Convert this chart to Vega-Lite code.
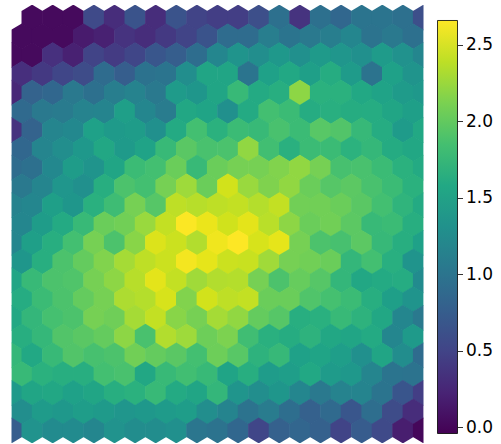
{
  "$schema": "https://vega.github.io/schema/vega-lite/v6.json",
  "background": "white",
  "padding": {"left": 11.5, "top": 5, "right": 0, "bottom": 0},
  "spacing": 13,
  "config": {"view": {"stroke": null}},
  "hconcat": [
    {
      "width": 412,
      "height": 438,
      "data": {"values": [
        {"r":0,"c":1,"v":0.02},{"r":0,"c":2,"v":0.02},{"r":0,"c":3,"v":0.02},{"r":0,"c":4,"v":0.55},{"r":0,"c":5,"v":0.3},{"r":0,"c":6,"v":0.65},{"r":0,"c":7,"v":0.3},{"r":0,"c":8,"v":0.65},{"r":0,"c":9,"v":0.5},{"r":0,"c":10,"v":0.45},{"r":0,"c":11,"v":0.45},{"r":0,"c":12,"v":0.6},{"r":0,"c":13,"v":0.95},{"r":0,"c":14,"v":0.35},{"r":0,"c":15,"v":0.95},{"r":0,"c":16,"v":0.85},{"r":0,"c":17,"v":1.0},{"r":0,"c":18,"v":1.0},{"r":0,"c":19,"v":0.95},{"r":0,"c":20,"v":0.6},
        {"r":1,"c":0.5,"v":0.02},{"r":1,"c":1.5,"v":0.02},{"r":1,"c":2.5,"v":0.02},{"r":1,"c":3.5,"v":0.15},{"r":1,"c":4.5,"v":0.2},{"r":1,"c":5.5,"v":0.35},{"r":1,"c":6.5,"v":0.3},{"r":1,"c":7.5,"v":0.4},{"r":1,"c":8.5,"v":0.5},{"r":1,"c":9.5,"v":0.65},{"r":1,"c":10.5,"v":0.9},{"r":1,"c":11.5,"v":0.9},{"r":1,"c":12.5,"v":1.1},{"r":1,"c":13.5,"v":1.0},{"r":1,"c":14.5,"v":1.05},{"r":1,"c":15.5,"v":1.1},{"r":1,"c":16.5,"v":1.2},{"r":1,"c":17.5,"v":0.98},{"r":1,"c":18.5,"v":1.05},{"r":1,"c":19.5,"v":0.95},
        {"r":2,"c":0,"v":0.02},{"r":2,"c":1,"v":0.02},{"r":2,"c":2,"v":0.33},{"r":2,"c":3,"v":0.2},{"r":2,"c":4,"v":0.5},{"r":2,"c":5,"v":0.42},{"r":2,"c":6,"v":0.52},{"r":2,"c":7,"v":0.68},{"r":2,"c":8,"v":0.75},{"r":2,"c":9,"v":0.92},{"r":2,"c":10,"v":1.2},{"r":2,"c":11,"v":1.35},{"r":2,"c":12,"v":1.28},{"r":2,"c":13,"v":1.4},{"r":2,"c":14,"v":1.3},{"r":2,"c":15,"v":1.42},{"r":2,"c":16,"v":1.37},{"r":2,"c":17,"v":1.3},{"r":2,"c":18,"v":1.43},{"r":2,"c":19,"v":1.32},{"r":2,"c":20,"v":1.2},
        {"r":3,"c":0.5,"v":0.32},{"r":3,"c":1.5,"v":0.4},{"r":3,"c":2.5,"v":0.52},{"r":3,"c":3.5,"v":0.57},{"r":3,"c":4.5,"v":0.9},{"r":3,"c":5.5,"v":0.75},{"r":3,"c":6.5,"v":0.97},{"r":3,"c":7.5,"v":1.0},{"r":3,"c":8.5,"v":1.28},{"r":3,"c":9.5,"v":1.55},{"r":3,"c":10.5,"v":1.55},{"r":3,"c":11.5,"v":1.0},{"r":3,"c":12.5,"v":1.5},{"r":3,"c":13.5,"v":1.58},{"r":3,"c":14.5,"v":1.48},{"r":3,"c":15.5,"v":1.63},{"r":3,"c":16.5,"v":1.43},{"r":3,"c":17.5,"v":0.98},{"r":3,"c":18.5,"v":1.5},{"r":3,"c":19.5,"v":1.35},
        {"r":4,"c":0,"v":0.25},{"r":4,"c":1,"v":0.8},{"r":4,"c":2,"v":0.85},{"r":4,"c":3,"v":1.05},{"r":4,"c":4,"v":0.95},{"r":4,"c":5,"v":1.1},{"r":4,"c":6,"v":1.15},{"r":4,"c":7,"v":1.05},{"r":4,"c":8,"v":1.43},{"r":4,"c":9,"v":1.38},{"r":4,"c":10,"v":1.55},{"r":4,"c":11,"v":1.78},{"r":4,"c":12,"v":1.6},{"r":4,"c":13,"v":1.65},{"r":4,"c":14,"v":2.2},{"r":4,"c":15,"v":1.68},{"r":4,"c":16,"v":1.68},{"r":4,"c":17,"v":1.58},{"r":4,"c":18,"v":1.52},{"r":4,"c":19,"v":1.43},{"r":4,"c":20,"v":1.4},
        {"r":5,"c":0.5,"v":0.88},{"r":5,"c":1.5,"v":1.05},{"r":5,"c":2.5,"v":1.07},{"r":5,"c":3.5,"v":1.15},{"r":5,"c":4.5,"v":1.17},{"r":5,"c":5.5,"v":1.48},{"r":5,"c":6.5,"v":1.2},{"r":5,"c":7.5,"v":1.08},{"r":5,"c":8.5,"v":1.57},{"r":5,"c":9.5,"v":1.53},{"r":5,"c":10.5,"v":1.3},{"r":5,"c":11.5,"v":1.6},{"r":5,"c":12.5,"v":1.85},{"r":5,"c":13.5,"v":1.8},{"r":5,"c":14.5,"v":1.62},{"r":5,"c":15.5,"v":1.66},{"r":5,"c":16.5,"v":1.63},{"r":5,"c":17.5,"v":1.62},{"r":5,"c":18.5,"v":1.55},{"r":5,"c":19.5,"v":1.48},
        {"r":6,"c":0,"v":0.35},{"r":6,"c":1,"v":0.8},{"r":6,"c":2,"v":1.18},{"r":6,"c":3,"v":1.22},{"r":6,"c":4,"v":1.5},{"r":6,"c":5,"v":1.42},{"r":6,"c":6,"v":1.45},{"r":6,"c":7,"v":1.3},{"r":6,"c":8,"v":1.6},{"r":6,"c":9,"v":1.85},{"r":6,"c":10,"v":1.68},{"r":6,"c":11,"v":1.8},{"r":6,"c":12,"v":1.78},{"r":6,"c":13,"v":1.88},{"r":6,"c":14,"v":1.8},{"r":6,"c":15,"v":1.96},{"r":6,"c":16,"v":1.93},{"r":6,"c":17,"v":1.77},{"r":6,"c":18,"v":1.62},{"r":6,"c":19,"v":1.43},{"r":6,"c":20,"v":1.58},
        {"r":7,"c":0.5,"v":0.85},{"r":7,"c":1.5,"v":1.18},{"r":7,"c":2.5,"v":1.28},{"r":7,"c":3.5,"v":1.4},{"r":7,"c":4.5,"v":1.57},{"r":7,"c":5.5,"v":1.42},{"r":7,"c":6.5,"v":1.52},{"r":7,"c":7.5,"v":1.78},{"r":7,"c":8.5,"v":1.97},{"r":7,"c":9.5,"v":1.88},{"r":7,"c":10.5,"v":1.89},{"r":7,"c":11.5,"v":2.22},{"r":7,"c":12.5,"v":1.84},{"r":7,"c":13.5,"v":1.67},{"r":7,"c":14.5,"v":1.8},{"r":7,"c":15.5,"v":1.8},{"r":7,"c":16.5,"v":1.69},{"r":7,"c":17.5,"v":1.76},{"r":7,"c":18.5,"v":1.61},{"r":7,"c":19.5,"v":1.57},
        {"r":8,"c":0,"v":0.9},{"r":8,"c":1,"v":0.95},{"r":8,"c":2,"v":1.22},{"r":8,"c":3,"v":1.45},{"r":8,"c":4,"v":1.35},{"r":8,"c":5,"v":1.55},{"r":8,"c":6,"v":1.8},{"r":8,"c":7,"v":1.85},{"r":8,"c":8,"v":2.05},{"r":8,"c":9,"v":1.78},{"r":8,"c":10,"v":2.05},{"r":8,"c":11,"v":2.1},{"r":8,"c":12,"v":2.1},{"r":8,"c":13,"v":2.15},{"r":8,"c":14,"v":2.22},{"r":8,"c":15,"v":2.1},{"r":8,"c":16,"v":1.87},{"r":8,"c":17,"v":1.88},{"r":8,"c":18,"v":1.8},{"r":8,"c":19,"v":1.68},{"r":8,"c":20,"v":1.6},
        {"r":9,"c":0.5,"v":1.05},{"r":9,"c":1.5,"v":1.18},{"r":9,"c":2.5,"v":1.37},{"r":9,"c":3.5,"v":1.3},{"r":9,"c":4.5,"v":1.65},{"r":9,"c":5.5,"v":1.9},{"r":9,"c":6.5,"v":1.85},{"r":9,"c":7.5,"v":2.1},{"r":9,"c":8.5,"v":2.27},{"r":9,"c":9.5,"v":2.05},{"r":9,"c":10.5,"v":2.48},{"r":9,"c":11.5,"v":2.25},{"r":9,"c":12.5,"v":2.14},{"r":9,"c":13.5,"v":2.22},{"r":9,"c":14.5,"v":2.05},{"r":9,"c":15.5,"v":1.95},{"r":9,"c":16.5,"v":1.98},{"r":9,"c":17.5,"v":1.88},{"r":9,"c":18.5,"v":1.8},{"r":9,"c":19.5,"v":1.68},
        {"r":10,"c":0,"v":1.15},{"r":10,"c":1,"v":1.2},{"r":10,"c":2,"v":1.48},{"r":10,"c":3,"v":1.38},{"r":10,"c":4,"v":1.67},{"r":10,"c":5,"v":1.82},{"r":10,"c":6,"v":2.1},{"r":10,"c":7,"v":1.95},{"r":10,"c":8,"v":2.4},{"r":10,"c":9,"v":2.37},{"r":10,"c":10,"v":2.4},{"r":10,"c":11,"v":2.42},{"r":10,"c":12,"v":2.36},{"r":10,"c":13,"v":2.42},{"r":10,"c":14,"v":2.08},{"r":10,"c":15,"v":2.08},{"r":10,"c":16,"v":2.05},{"r":10,"c":17,"v":1.97},{"r":10,"c":18,"v":1.85},{"r":10,"c":19,"v":1.72},{"r":10,"c":20,"v":1.6},
        {"r":11,"c":0.5,"v":1.2},{"r":11,"c":1.5,"v":1.45},{"r":11,"c":2.5,"v":1.6},{"r":11,"c":3.5,"v":1.78},{"r":11,"c":4.5,"v":2.05},{"r":11,"c":5.5,"v":2.08},{"r":11,"c":6.5,"v":2.25},{"r":11,"c":7.5,"v":2.42},{"r":11,"c":8.5,"v":2.65},{"r":11,"c":9.5,"v":2.58},{"r":11,"c":10.5,"v":2.47},{"r":11,"c":11.5,"v":2.55},{"r":11,"c":12.5,"v":2.38},{"r":11,"c":13.5,"v":2.2},{"r":11,"c":14.5,"v":2.05},{"r":11,"c":15.5,"v":2.08},{"r":11,"c":16.5,"v":1.98},{"r":11,"c":17.5,"v":1.78},{"r":11,"c":18.5,"v":1.8},{"r":11,"c":19.5,"v":1.65},
        {"r":12,"c":0,"v":1.2},{"r":12,"c":1,"v":1.48},{"r":12,"c":2,"v":1.65},{"r":12,"c":3,"v":1.85},{"r":12,"c":4,"v":2.1},{"r":12,"c":5,"v":1.9},{"r":12,"c":6,"v":2.18},{"r":12,"c":7,"v":2.52},{"r":12,"c":8,"v":2.45},{"r":12,"c":9,"v":2.35},{"r":12,"c":10,"v":2.6},{"r":12,"c":11,"v":2.66},{"r":12,"c":12,"v":2.5},{"r":12,"c":13,"v":2.56},{"r":12,"c":14,"v":2.1},{"r":12,"c":15,"v":1.9},{"r":12,"c":16,"v":1.87},{"r":12,"c":17,"v":1.98},{"r":12,"c":18,"v":1.77},{"r":12,"c":19,"v":1.65},{"r":12,"c":20,"v":1.5},
        {"r":13,"c":0.5,"v":1.38},{"r":13,"c":1.5,"v":1.65},{"r":13,"c":2.5,"v":1.9},{"r":13,"c":3.5,"v":2.02},{"r":13,"c":4.5,"v":2.15},{"r":13,"c":5.5,"v":2.3},{"r":13,"c":6.5,"v":2.4},{"r":13,"c":7.5,"v":2.45},{"r":13,"c":8.5,"v":2.62},{"r":13,"c":9.5,"v":2.56},{"r":13,"c":10.5,"v":2.45},{"r":13,"c":11.5,"v":2.44},{"r":13,"c":12.5,"v":2.28},{"r":13,"c":13.5,"v":2.1},{"r":13,"c":14.5,"v":2.08},{"r":13,"c":15.5,"v":2.05},{"r":13,"c":16.5,"v":1.75},{"r":13,"c":17.5,"v":1.85},{"r":13,"c":18.5,"v":1.66},{"r":13,"c":19.5,"v":1.35},
        {"r":14,"c":0,"v":1.55},{"r":14,"c":1,"v":1.78},{"r":14,"c":2,"v":1.9},{"r":14,"c":3,"v":1.92},{"r":14,"c":4,"v":2.1},{"r":14,"c":5,"v":2.2},{"r":14,"c":6,"v":2.37},{"r":14,"c":7,"v":2.55},{"r":14,"c":8,"v":2.42},{"r":14,"c":9,"v":2.28},{"r":14,"c":10,"v":2.35},{"r":14,"c":11,"v":2.36},{"r":14,"c":12,"v":2.1},{"r":14,"c":13,"v":1.9},{"r":14,"c":14,"v":2.03},{"r":14,"c":15,"v":1.95},{"r":14,"c":16,"v":1.75},{"r":14,"c":17,"v":1.57},{"r":14,"c":18,"v":1.6},{"r":14,"c":19,"v":1.62},{"r":14,"c":20,"v":1.25},
        {"r":15,"c":0.5,"v":1.62},{"r":15,"c":1.5,"v":1.8},{"r":15,"c":2.5,"v":1.9},{"r":15,"c":3.5,"v":2.02},{"r":15,"c":4.5,"v":2.1},{"r":15,"c":5.5,"v":2.33},{"r":15,"c":6.5,"v":2.36},{"r":15,"c":7.5,"v":2.5},{"r":15,"c":8.5,"v":2.15},{"r":15,"c":9.5,"v":2.48},{"r":15,"c":10.5,"v":2.4},{"r":15,"c":11.5,"v":2.42},{"r":15,"c":12.5,"v":2.05},{"r":15,"c":13.5,"v":2.05},{"r":15,"c":14.5,"v":1.92},{"r":15,"c":15.5,"v":1.86},{"r":15,"c":16.5,"v":1.8},{"r":15,"c":17.5,"v":1.65},{"r":15,"c":18.5,"v":1.48},{"r":15,"c":19.5,"v":1.35},
        {"r":16,"c":0,"v":1.58},{"r":16,"c":1,"v":1.75},{"r":16,"c":2,"v":1.86},{"r":16,"c":3,"v":1.9},{"r":16,"c":4,"v":2.1},{"r":16,"c":5,"v":2.07},{"r":16,"c":6,"v":2.3},{"r":16,"c":7,"v":2.42},{"r":16,"c":8,"v":2.18},{"r":16,"c":9,"v":2.1},{"r":16,"c":10,"v":2.3},{"r":16,"c":11,"v":2.22},{"r":16,"c":12,"v":2.02},{"r":16,"c":13,"v":1.95},{"r":16,"c":14,"v":1.65},{"r":16,"c":15,"v":1.67},{"r":16,"c":16,"v":1.78},{"r":16,"c":17,"v":1.7},{"r":16,"c":18,"v":1.57},{"r":16,"c":19,"v":1.2},{"r":16,"c":20,"v":1.05},
        {"r":17,"c":0.5,"v":1.65},{"r":17,"c":1.5,"v":1.76},{"r":17,"c":2.5,"v":1.93},{"r":17,"c":3.5,"v":1.97},{"r":17,"c":4.5,"v":2.02},{"r":17,"c":5.5,"v":2.2},{"r":17,"c":6.5,"v":1.88},{"r":17,"c":7.5,"v":2.35},{"r":17,"c":8.5,"v":2.27},{"r":17,"c":9.5,"v":2.06},{"r":17,"c":10.5,"v":2.13},{"r":17,"c":11.5,"v":1.83},{"r":17,"c":12.5,"v":1.67},{"r":17,"c":13.5,"v":1.63},{"r":17,"c":14.5,"v":1.7},{"r":17,"c":15.5,"v":1.57},{"r":17,"c":16.5,"v":1.55},{"r":17,"c":17.5,"v":1.6},{"r":17,"c":18.5,"v":1.2},{"r":17,"c":19.5,"v":1.42},
        {"r":18,"c":0,"v":1.76},{"r":18,"c":1,"v":1.58},{"r":18,"c":2,"v":1.78},{"r":18,"c":3,"v":1.93},{"r":18,"c":4,"v":1.87},{"r":18,"c":5,"v":1.9},{"r":18,"c":6,"v":2.08},{"r":18,"c":7,"v":2.02},{"r":18,"c":8,"v":1.97},{"r":18,"c":9,"v":1.85},{"r":18,"c":10,"v":2.06},{"r":18,"c":11,"v":1.96},{"r":18,"c":12,"v":1.7},{"r":18,"c":13,"v":1.77},{"r":18,"c":14,"v":1.5},{"r":18,"c":15,"v":1.53},{"r":18,"c":16,"v":1.47},{"r":18,"c":17,"v":1.3},{"r":18,"c":18,"v":1.55},{"r":18,"c":19,"v":1.27},{"r":18,"c":20,"v":0.9},
        {"r":19,"c":0.5,"v":1.78},{"r":19,"c":1.5,"v":1.68},{"r":19,"c":2.5,"v":1.65},{"r":19,"c":3.5,"v":1.65},{"r":19,"c":4.5,"v":1.85},{"r":19,"c":5.5,"v":1.88},{"r":19,"c":6.5,"v":1.57},{"r":19,"c":7.5,"v":1.78},{"r":19,"c":8.5,"v":1.84},{"r":19,"c":9.5,"v":1.78},{"r":19,"c":10.5,"v":1.53},{"r":19,"c":11.5,"v":1.65},{"r":19,"c":12.5,"v":1.44},{"r":19,"c":13.5,"v":1.47},{"r":19,"c":14.5,"v":1.58},{"r":19,"c":15.5,"v":1.43},{"r":19,"c":16.5,"v":1.4},{"r":19,"c":17.5,"v":1.18},{"r":19,"c":18.5,"v":1.0},{"r":19,"c":19.5,"v":0.98},
        {"r":20,"c":0,"v":1.42},{"r":20,"c":1,"v":1.55},{"r":20,"c":2,"v":1.57},{"r":20,"c":3,"v":1.5},{"r":20,"c":4,"v":1.55},{"r":20,"c":5,"v":1.65},{"r":20,"c":6,"v":1.68},{"r":20,"c":7,"v":1.78},{"r":20,"c":8,"v":1.6},{"r":20,"c":9,"v":1.55},{"r":20,"c":10,"v":1.75},{"r":20,"c":11,"v":1.36},{"r":20,"c":12,"v":1.28},{"r":20,"c":13,"v":1.38},{"r":20,"c":14,"v":1.2},{"r":20,"c":15,"v":1.05},{"r":20,"c":16,"v":1.15},{"r":20,"c":17,"v":1.17},{"r":20,"c":18,"v":1.0},{"r":20,"c":19,"v":0.67},{"r":20,"c":20,"v":0.45},
        {"r":21,"c":0.5,"v":1.28},{"r":21,"c":1.5,"v":1.43},{"r":21,"c":2.5,"v":1.4},{"r":21,"c":3.5,"v":1.46},{"r":21,"c":4.5,"v":1.42},{"r":21,"c":5.5,"v":1.37},{"r":21,"c":6.5,"v":1.4},{"r":21,"c":7.5,"v":1.43},{"r":21,"c":8.5,"v":1.46},{"r":21,"c":9.5,"v":1.28},{"r":21,"c":10.5,"v":1.17},{"r":21,"c":11.5,"v":0.98},{"r":21,"c":12.5,"v":1.08},{"r":21,"c":13.5,"v":0.93},{"r":21,"c":14.5,"v":0.78},{"r":21,"c":15.5,"v":0.88},{"r":21,"c":16.5,"v":0.68},{"r":21,"c":17.5,"v":0.93},{"r":21,"c":18.5,"v":0.57},{"r":21,"c":19.5,"v":0.3},
        {"r":22,"c":0,"v":0.75},{"r":22,"c":1,"v":1.33},{"r":22,"c":2,"v":1.25},{"r":22,"c":3,"v":1.25},{"r":22,"c":4,"v":1.2},{"r":22,"c":5,"v":1.33},{"r":22,"c":6,"v":1.27},{"r":22,"c":7,"v":1.27},{"r":22,"c":8,"v":1.3},{"r":22,"c":9,"v":1.02},{"r":22,"c":10,"v":0.98},{"r":22,"c":11,"v":0.85},{"r":22,"c":12,"v":0.52},{"r":22,"c":13,"v":0.78},{"r":22,"c":14,"v":0.84},{"r":22,"c":15,"v":0.78},{"r":22,"c":16,"v":0.5},{"r":22,"c":17,"v":0.73},{"r":22,"c":18,"v":0.55},{"r":22,"c":19,"v":0.17},{"r":22,"c":20,"v":0.0}
      ]},
      "mark": {
        "type": "point",
        "shape": "M0,-1L0.823,-0.5L0.823,0.5L0,1L-0.823,0.5L-0.823,-0.5Z",
        "filled": true,
        "opacity": 1,
        "size": 662,
        "strokeWidth": 0,
        "clip": true
      },
      "encoding": {
        "x": {"field": "c", "type": "quantitative", "scale": {"domain": [0, 20], "nice": false, "zero": false}, "axis": null},
        "y": {"field": "r", "type": "quantitative", "scale": {"domain": [-0.6667, 22.6667], "nice": false, "zero": false, "reverse": true}, "axis": null},
        "color": {"field": "v", "type": "quantitative", "scale": {"scheme": "viridis", "domain": [-0.04, 2.66]}, "legend": null}
      }
    },
    {
      "width": 20,
      "height": 438,
      "data": {"values": [{"lo": -0.04, "hi": 2.66, "a": 0, "b": 1}]},
      "mark": {
        "type": "rect",
        "stroke": "black",
        "strokeWidth": 0.8,
        "fill": {
          "gradient": "linear",
          "x1": 0, "y1": 1, "x2": 0, "y2": 0,
          "stops": [
            {"offset": 0.0, "color": "#440154"},
            {"offset": 0.1, "color": "#482475"},
            {"offset": 0.2, "color": "#414487"},
            {"offset": 0.3, "color": "#355f8d"},
            {"offset": 0.4, "color": "#2a788e"},
            {"offset": 0.5, "color": "#21918c"},
            {"offset": 0.6, "color": "#22a884"},
            {"offset": 0.7, "color": "#44bf70"},
            {"offset": 0.8, "color": "#7ad151"},
            {"offset": 0.9, "color": "#bddf26"},
            {"offset": 1.0, "color": "#fde725"}
          ]
        }
      },
      "encoding": {
        "x": {"field": "a", "type": "quantitative", "scale": {"domain": [0, 1], "nice": false, "zero": false}, "axis": null},
        "x2": {"field": "b"},
        "y": {
          "field": "lo", "type": "quantitative",
          "scale": {"domain": [-0.1021, 2.7613], "nice": false, "zero": false},
          "axis": {
            "orient": "right", "title": null,
            "values": [0, 0.5, 1, 1.5, 2, 2.5], "format": ".1f",
            "domain": false, "grid": false,
            "ticks": true, "tickSize": 5, "tickColor": "black", "tickWidth": 0.8,
            "labelFont": "DejaVu Sans", "labelFontSize": 17, "labelColor": "black", "labelPadding": 3
          }
        },
        "y2": {"field": "hi"}
      }
    }
  ]
}
